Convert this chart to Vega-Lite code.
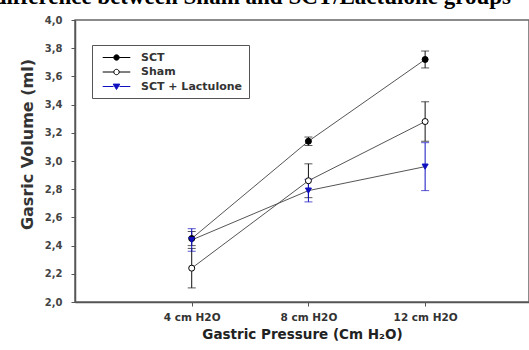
{
  "$schema": "https://vega.github.io/schema/vega-lite/v6.json",
  "width": 454,
  "height": 282,
  "autosize": {"type": "none"},
  "padding": {"left": 75, "top": 20, "right": 0, "bottom": 48},
  "background": "white",
  "config": {
    "view": {"stroke": "#666", "strokeWidth": 1.5},
    "font": "DejaVu Sans"
  },
  "title": {
    "text": "Gastric volume difference between Sham and SCT/Lactulone groups",
    "font": "Liberation Serif",
    "fontSize": 23,
    "fontWeight": "bold",
    "color": "black",
    "anchor": "end",
    "frame": "group",
    "baseline": "alphabetic",
    "offset": -12,
    "dx": -18
  },
  "data": {
    "values": [
      {"pressure": 4, "series": "SCT", "volume": 2.45, "err": 0.05},
      {"pressure": 8, "series": "SCT", "volume": 3.14, "err": 0.03},
      {"pressure": 12, "series": "SCT", "volume": 3.72, "err": 0.06},
      {"pressure": 4, "series": "Sham", "volume": 2.24, "err": 0.14},
      {"pressure": 8, "series": "Sham", "volume": 2.86, "err": 0.12},
      {"pressure": 12, "series": "Sham", "volume": 3.28, "err": 0.14},
      {"pressure": 4, "series": "SCT + Lactulone", "volume": 2.44, "err": 0.08},
      {"pressure": 8, "series": "SCT + Lactulone", "volume": 2.79, "err": 0.08},
      {"pressure": 12, "series": "SCT + Lactulone", "volume": 2.96, "err": 0.17}
    ]
  },
  "encoding": {
    "x": {
      "field": "pressure",
      "type": "quantitative",
      "scale": {"domain": [0, 15.56], "nice": false, "zero": false},
      "axis": {
        "values": [4, 8, 12],
        "labelExpr": "datum.value + ' cm H2O'",
        "title": "Gastric Pressure (Cm H₂O)",
        "grid": false,
        "domainColor": "#555",
        "domainWidth": 1.5,
        "tickColor": "#555",
        "tickSize": 4,
        "labelFontSize": 10.5,
        "labelFontWeight": "bold",
        "labelColor": "#333",
        "labelPadding": 6,
        "titleFontSize": 13.5,
        "titleFontWeight": "bold",
        "titleColor": "#222",
        "titlePadding": 5
      }
    },
    "y": {
      "field": "volume",
      "type": "quantitative",
      "scale": {"domain": [2, 4], "nice": false, "zero": false},
      "axis": {
        "values": [2, 2.2, 2.4, 2.6, 2.8, 3, 3.2, 3.4, 3.6, 3.8, 4],
        "labelExpr": "replace(format(datum.value, '.1f'), '.', ',')",
        "title": "Gasric Volume (ml)",
        "grid": false,
        "domainColor": "#555",
        "domainWidth": 1.5,
        "tickColor": "#555",
        "tickSize": 4,
        "labelFontSize": 10,
        "labelFontWeight": "bold",
        "labelColor": "#444",
        "labelPadding": 9,
        "titleFontSize": 16,
        "titleFontWeight": "bold",
        "titleColor": "#333",
        "titlePadding": 9,
        "titleY": 124
      }
    }
  },
  "layer": [
    {
      "mark": {"type": "line", "color": "#555", "strokeWidth": 1},
      "encoding": {"detail": {"field": "series", "type": "nominal"}}
    },
    {
      "mark": {"type": "errorbar", "ticks": {"size": 8}, "thickness": 1},
      "encoding": {
        "y": {"field": "volume", "type": "quantitative"},
        "yError": {"field": "err"},
        "color": {
          "field": "series",
          "type": "nominal",
          "scale": {"domain": ["SCT", "Sham", "SCT + Lactulone"], "range": ["#111", "#111", "#1010c0"]},
          "legend": null
        }
      }
    },
    {
      "mark": {"type": "point", "size": 36, "strokeWidth": 1, "opacity": 1},
      "encoding": {
        "shape": {
          "field": "series",
          "type": "nominal",
          "scale": {"domain": ["SCT", "Sham", "SCT + Lactulone"], "range": ["circle", "circle", "triangle-down"]},
          "legend": null
        },
        "fill": {
          "field": "series",
          "type": "nominal",
          "scale": {"domain": ["SCT", "Sham", "SCT + Lactulone"], "range": ["black", "white", "#1010c0"]},
          "legend": null
        },
        "stroke": {
          "field": "series",
          "type": "nominal",
          "scale": {"domain": ["SCT", "Sham", "SCT + Lactulone"], "range": ["black", "black", "#1010c0"]},
          "legend": null
        }
      }
    },
    {
      "transform": [{"filter": "false"}],
      "mark": {"type": "point", "strokeWidth": 1, "opacity": 1},
      "encoding": {
        "shape": {
          "field": "series",
          "type": "nominal",
          "scale": {
            "domain": ["SCT", "Sham", "SCT + Lactulone"],
            "range": [
              "M-2.3,0H-0.45M0.45,0H2.3M0.45,0A0.45,0.45,0,1,1,-0.45,0A0.45,0.45,0,1,1,0.45,0Z",
              "M-2.3,0H-0.45M0.45,0H2.3M0.45,0A0.45,0.45,0,1,1,-0.45,0A0.45,0.45,0,1,1,0.45,0Z",
              "M-2.3,0H-0.5M0.5,0H2.3M-0.55,-0.4H0.55L0,0.5Z"
            ]
          },
          "legend": {
            "orient": "none",
            "legendX": 17,
            "legendY": 25,
            "title": null,
            "strokeColor": "#555",
            "fillColor": "white",
            "padding": 6,
            "symbolSize": 144,
            "symbolStrokeWidth": 1,
            "symbolOffset": 12,
            "labelOffset": 18,
            "rowPadding": 2.5,
            "labelFontSize": 11,
            "labelFontWeight": "bold",
            "labelColor": "#333"
          }
        },
        "fill": {
          "field": "series",
          "type": "nominal",
          "scale": {"domain": ["SCT", "Sham", "SCT + Lactulone"], "range": ["black", "white", "#1010c0"]}
        },
        "stroke": {
          "field": "series",
          "type": "nominal",
          "scale": {"domain": ["SCT", "Sham", "SCT + Lactulone"], "range": ["black", "black", "#1010c0"]}
        }
      }
    }
  ],
  "resolve": {"scale": {"shape": "independent", "fill": "independent", "stroke": "independent"}}
}
